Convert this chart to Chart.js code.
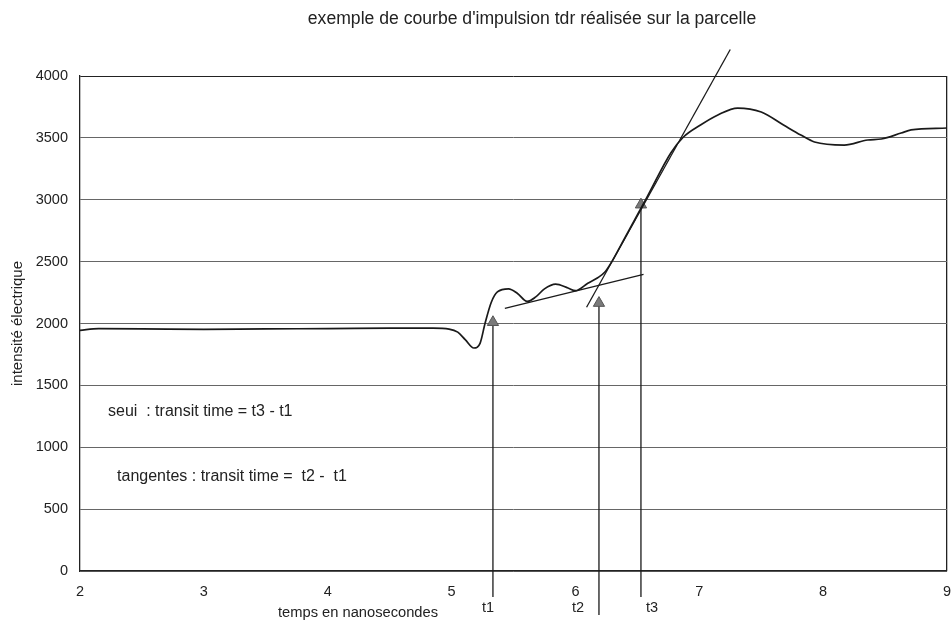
<!DOCTYPE html>
<html lang="fr">
<head>
<meta charset="UTF-8">
<title>courbe d'impulsion tdr</title>
<script src="https://cdn.jsdelivr.net/npm/chart.js"></script>
<style>
  html, body { margin: 0; padding: 0; background: #fff; overflow: hidden; }
  #wrap { width: 951px; height: 622px; }
</style>
</head>
<body>
<div id="wrap"><canvas id="tdr"></canvas></div>
<script>
// courbe mesurée (temps en ns, intensité)
const curveX = [2.00, 2.15, 2.5, 3.0, 3.5, 4.0, 4.5, 4.85, 4.98, 5.05, 5.11, 5.18, 5.23, 5.27, 5.32, 5.37,
  5.46, 5.53, 5.61, 5.68, 5.75, 5.84, 5.94, 6.00, 6.10, 6.18, 6.24, 6.30, 6.39, 6.58, 6.77, 6.87,
  7.01, 7.15, 7.31, 7.50, 7.68, 7.82, 7.93, 8.17, 8.36, 8.47, 8.63, 8.71, 9.00];
const curveY = [1945, 1958, 1957, 1953, 1957, 1958, 1962, 1962, 1955, 1930, 1870, 1802, 1840, 2000, 2170, 2255,
  2280, 2245, 2178, 2215, 2280, 2318, 2287, 2265, 2325, 2370, 2418, 2510, 2675, 3025, 3378, 3505,
  3604, 3685, 3741, 3709, 3604, 3523, 3467, 3442, 3483, 3491, 3539, 3564, 3580];

// tangentes
const lowTangentX = [5.43, 6.55];
const lowTangentY = [2122, 2397];
const steepTangentX = [6.09, 7.25];
const steepTangentY = [2131, 4214];

// flèches t1 t2 t3
const arrowX = [5.334, 6.19, 6.529];
const arrowBottom = [-210, -356, -210];
const arrowHead = [2010, 2165, 2960];
const tLabels = ['t1', 't2', 't3'];
const tLabelX = [5.294, 6.021, 6.618];

// axes
const yTicks = [0, 500, 1000, 1500, 2000, 2500, 3000, 3500, 4000];
const xTicks = [2, 3, 4, 5, 6, 7, 8, 9];

// textes
const titleText = "exemple de courbe d'impulsion tdr réalisée sur la parcelle";
const xTitle = 'temps en nanosecondes';
const yTitle = 'intensité électrique';
const noteText = ['seui  : transit time = t3 - t1', 'tangentes : transit time =  t2 -  t1'];
const noteX = [2.226, 2.299];
const noteY = [1287, 762];

const FONT = '"Liberation Sans", Arial, sans-serif';
const INK = '#222';

function pts(xs, ys) { return xs.map((x, i) => ({ x: x, y: ys[i] })); }

const arrowSets = arrowX.map((x, i) => ({
  data: [{ x: x, y: arrowBottom[i] }, { x: x, y: arrowHead[i] }],
  borderColor: '#1a1a1a', borderWidth: 1.3, tension: 0,
  pointRadius: [0, 6.5], pointStyle: 'triangle',
  pointBackgroundColor: '#7a7a7a', pointBorderColor: '#555', pointBorderWidth: 1,
  clip: false
}));

// textes libres : titre, titre x, annotations, t1..t3
const textPlugin = {
  id: 'texts',
  afterDraw(chart) {
    const ctx = chart.ctx, xs = chart.scales.x, ys = chart.scales.y;
    ctx.save();
    ctx.fillStyle = INK;
    ctx.textBaseline = 'middle';
    ctx.textAlign = 'center';
    ctx.font = '17.6px ' + FONT;
    ctx.fillText(titleText, 532, 19);
    ctx.font = '14.7px ' + FONT;
    ctx.fillText(xTitle, 358, 613);
    ctx.font = '14.5px ' + FONT;
    tLabels.forEach((t, i) => ctx.fillText(t, xs.getPixelForValue(tLabelX[i]), 608));
    ctx.textAlign = 'left';
    ctx.font = '16px ' + FONT;
    noteText.forEach((t, i) => ctx.fillText(t, xs.getPixelForValue(noteX[i]), ys.getPixelForValue(noteY[i])));
    ctx.restore();
  }
};

new Chart(document.getElementById('tdr'), {
  type: 'line',
  data: {
    datasets: [
      { data: pts(curveX, curveY), borderColor: '#1a1a1a', borderWidth: 1.7, pointRadius: 0,
        cubicInterpolationMode: 'monotone' },
      { data: pts(lowTangentX, lowTangentY), borderColor: '#1a1a1a', borderWidth: 1.3, pointRadius: 0, tension: 0 },
      { data: pts(steepTangentX, steepTangentY), borderColor: '#1a1a1a', borderWidth: 1.3, pointRadius: 0,
        tension: 0, clip: false },
      ...arrowSets
    ]
  },
  options: {
    responsive: true,
    maintainAspectRatio: false,
    animation: false,
    layout: { autoPadding: false, padding: { top: 76, left: 0, right: 4, bottom: 0 } },
    plugins: { legend: { display: false }, tooltip: { enabled: false } },
    scales: {
      x: {
        type: 'linear', min: 2, max: 9,
        afterBuildTicks: s => { s.ticks = xTicks.map(v => ({ value: v })); },
        afterFit: s => { s.height = 51; s.paddingLeft = 0; s.paddingRight = 0; },
        ticks: { padding: 12, color: INK, font: { family: FONT, size: 14.5 }, callback: v => String(v) },
        grid: {
          drawTicks: false, lineWidth: 1.3,
          color: c => (c.tick && c.tick.value === 9 ? '#222' : 'rgba(0,0,0,0)')
        },
        border: { color: '#222', width: 1.3 }
      },
      y: {
        min: 0, max: 4000,
        afterBuildTicks: s => { s.ticks = yTicks.map(v => ({ value: v })); },
        afterFit: s => { s.width = 80; s.paddingTop = 0; s.paddingBottom = 0; },
        ticks: { padding: 12, color: INK, font: { family: FONT, size: 14.5 }, callback: v => String(v) },
        grid: {
          drawTicks: false, lineWidth: 1,
          color: c => (c.tick && c.tick.value === 4000 ? '#222' : '#666')
        },
        border: { color: '#222', width: 1.3 },
        title: { display: true, text: yTitle, color: INK, padding: { top: 9, bottom: 0 },
          font: { family: FONT, size: 15 } }
      }
    }
  },
  plugins: [textPlugin]
});
</script>
</body>
</html>
